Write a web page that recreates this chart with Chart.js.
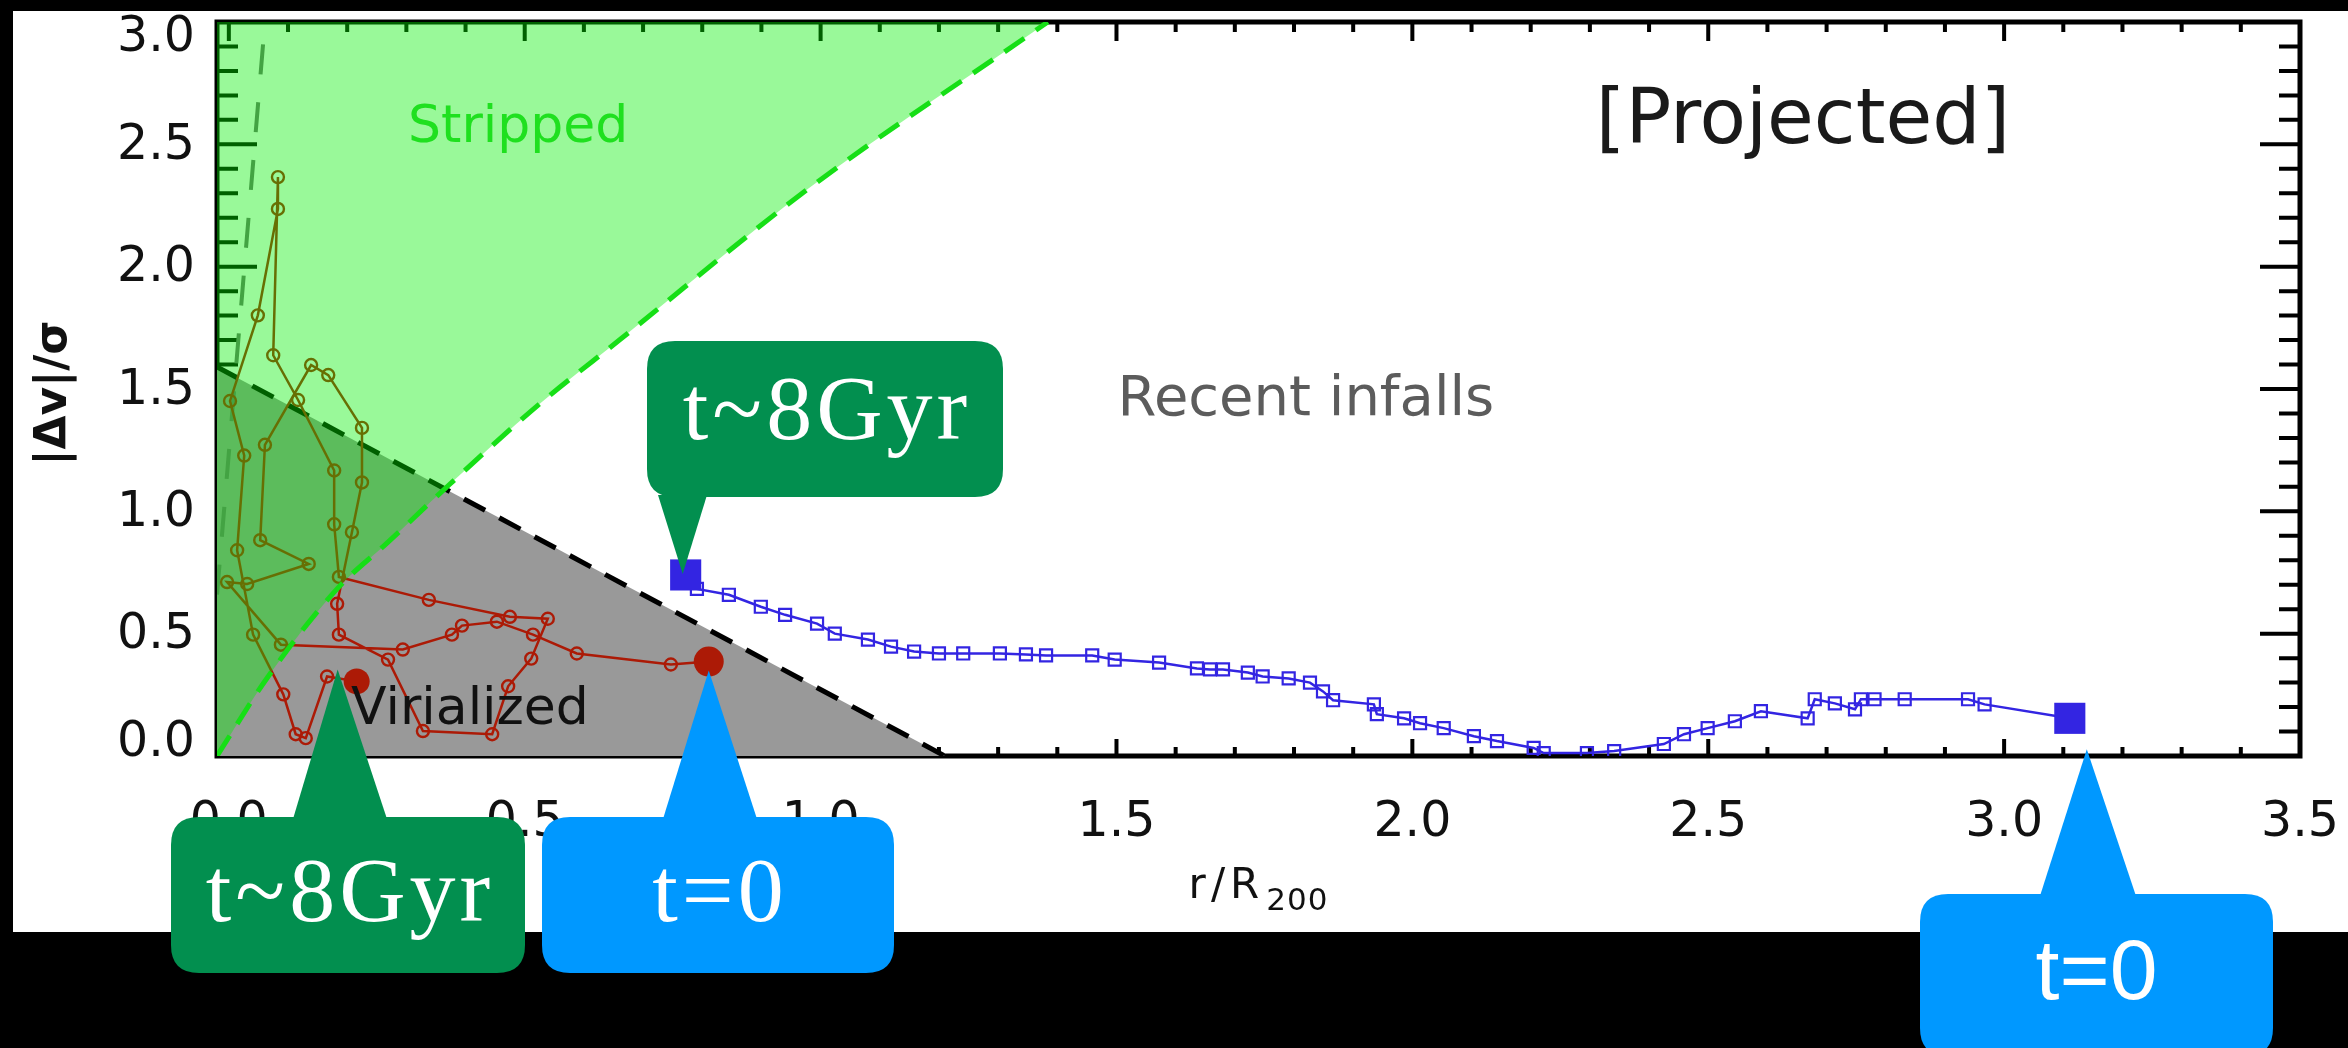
<!DOCTYPE html>
<html>
<head>
<meta charset="utf-8">
<title>Projected phase-space trajectories</title>
<script src="https://cdn.jsdelivr.net/npm/chart.js@4.4.1/dist/chart.umd.min.js"></script>
<style>
  html, body { margin: 0; padding: 0; background: #000; overflow: hidden; }
  canvas { display: block; }
</style>
</head>
<body>
<canvas id="c" width="2348" height="1048"></canvas>
<script>
// ---- axis ticks ----
const xTickValues = [0.0, 0.5, 1.0, 1.5, 2.0, 2.5, 3.0, 3.5];
const yTickValues = [0.0, 0.5, 1.0, 1.5, 2.0, 2.5, 3.0];

// ---- galaxy that stays in the cluster (from t~8Gyr to t=0) ----
const redR = [0.216, 0.166, 0.130, 0.113, 0.092, 0.041, 0.014, 0.026, 0.002, 0.049,
              0.083, 0.083, 0.075, 0.117, 0.178, 0.178, 0.186, 0.338, 0.475, 0.539,
              0.511, 0.472, 0.445, 0.328, 0.269, 0.186, 0.183, 0.208, 0.225, 0.225,
              0.168, 0.139, 0.061, 0.053, 0.135, 0.031, -0.003, 0.088, 0.294, 0.377,
              0.394, 0.453, 0.514, 0.588, 0.747, 0.811];
const redV = [0.305, 0.325, 0.073, 0.089, 0.252, 0.496, 0.841, 1.228, 1.451, 1.801,
              2.236, 2.366, 1.638, 1.455, 1.167, 0.947, 0.732, 0.638, 0.569, 0.561,
              0.398, 0.285, 0.089, 0.102, 0.394, 0.496, 0.622, 0.915, 1.118, 1.341,
              1.557, 1.598, 1.272, 0.882, 0.785, 0.703, 0.711, 0.455, 0.435, 0.496,
              0.533, 0.549, 0.496, 0.419, 0.374, 0.386];

// ---- galaxy moving out of the cluster (from t~8Gyr to t=0) ----
const blueR = [0.772, 0.791, 0.845, 0.899, 0.940, 0.994, 1.024, 1.080, 1.119, 1.158,
               1.200, 1.241, 1.303, 1.347, 1.381, 1.459, 1.497, 1.572, 1.636, 1.658,
               1.680, 1.722, 1.747, 1.791, 1.827, 1.849, 1.866, 1.935, 1.940, 1.986,
               2.013, 2.053, 2.104, 2.143, 2.205, 2.222, 2.295, 2.341, 2.425, 2.459,
               2.499, 2.545, 2.589, 2.668, 2.680, 2.714, 2.748, 2.758, 2.781, 2.832,
               2.939, 2.967, 3.111];
const blueV = [0.740, 0.683, 0.659, 0.610, 0.577, 0.541, 0.500, 0.476, 0.447, 0.427,
               0.419, 0.419, 0.419, 0.415, 0.411, 0.411, 0.394, 0.382, 0.358, 0.354,
               0.354, 0.341, 0.325, 0.317, 0.300, 0.264, 0.228, 0.211, 0.171, 0.154,
               0.134, 0.114, 0.081, 0.061, 0.033, 0.012, 0.012, 0.020, 0.049, 0.089,
               0.114, 0.142, 0.183, 0.154, 0.232, 0.215, 0.191, 0.232, 0.232, 0.232,
               0.232, 0.211, 0.154];

// ---- region boundaries ----
const virialEdgeR = [-0.02, 1.21];
const virialEdgeV = [1.59, 0.0];
const strippedEdgeR = [-0.02, 0.065, 0.183, 0.269, 0.364, 0.527, 0.660, 0.980, 1.384];
const strippedEdgeV = [0.0, 0.32, 0.683, 0.874, 1.09, 1.443, 1.700, 2.320, 3.0];
const escapeEdgeR = [-0.02, 0.061];
const escapeEdgeV = [0.66, 3.0];

// ---- labels ----
const regionLabels = ['Stripped', '[Projected]', 'Recent infalls', 'Virialized'];
const calloutLabels = ['t~8Gyr', 't~8Gyr', 't=0', 't=0'];

const pts = (xs, ys) => xs.map((v, i) => ({ x: v, y: ys[i] }));
const last = a => a[a.length - 1];

const RED = '#AC1A06';
const BLUE = '#3325E2';
const SANS = '"DejaVu Sans", sans-serif';

// page background, white figure panel
const canvasBg = {
  id: 'canvasBg',
  beforeDraw(chart) {
    const { ctx, width, height } = chart;
    ctx.save();
    ctx.fillStyle = '#fff';
    ctx.fillRect(0, 0, width, height);
    ctx.restore();
  }
};

// axis box with inward major and minor ticks, y tick labels
const axisFrame = {
  id: 'axisFrame',
  beforeDatasetsDraw(chart) {
    const { ctx, chartArea: a, scales: { x, y } } = chart;
    ctx.save();
    ctx.strokeStyle = '#000';
    ctx.lineWidth = 4;
    const xStep = (xTickValues[1] - xTickValues[0]) / 5;
    const xEnd = last(xTickValues);
    for (let i = 0; i * xStep <= xEnd + 1e-9; i++) {
      const p = x.getPixelForValue(i * xStep);
      const major = i % 5 === 0;
      ctx.beginPath();
      ctx.moveTo(p, a.bottom); ctx.lineTo(p, a.bottom - (major ? 17 : 9));
      ctx.moveTo(p, a.top); ctx.lineTo(p, a.top + (major ? 19 : 10));
      ctx.stroke();
    }
    const yStep = (yTickValues[1] - yTickValues[0]) / 5;
    const yEnd = last(yTickValues);
    for (let i = 1; i * yStep < yEnd - 1e-9; i++) {
      const p = y.getPixelForValue(i * yStep);
      const major = i % 5 === 0;
      ctx.beginPath();
      ctx.moveTo(a.left, p); ctx.lineTo(a.left + (major ? 40 : 21), p);
      ctx.moveTo(a.right, p); ctx.lineTo(a.right - (major ? 40 : 21), p);
      ctx.stroke();
    }
    ctx.lineWidth = 5;
    ctx.strokeRect(a.left, a.top, a.right - a.left, a.bottom - a.top);

    // y tick labels; the two end labels sit a little inside the axis range
    ctx.fillStyle = '#111';
    ctx.font = '49px ' + SANS;
    ctx.textAlign = 'right';
    ctx.textBaseline = 'middle';
    yTickValues.forEach((v, i) => {
      let dy = 2;
      if (i === 0) dy = -13;
      if (i === yTickValues.length - 1) dy = 16;
      ctx.fillText(v.toFixed(1), a.left - 22, y.getPixelForValue(v) + dy);
    });
    ctx.restore();
  }
};

// region names and axis titles
const regionText = {
  id: 'regionText',
  afterDatasetsDraw(chart) {
    const { ctx, chartArea: a, scales: { x, y } } = chart;
    const items = [
      { t: regionLabels[0], r: 0.489, v: 2.566, font: '52px ' + SANS, color: '#1FE01F' },
      { t: regionLabels[1], r: 2.660, v: 2.587, font: '76px ' + SANS, color: '#1a1a1a' },
      { t: regionLabels[2], r: 1.820, v: 1.455, font: '56px ' + SANS, color: '#5c5c5c' },
      { t: regionLabels[3], r: 0.4075, v: 0.186, font: '52px ' + SANS, color: '#111' }
    ];
    ctx.save();
    ctx.textAlign = 'center';
    ctx.textBaseline = 'middle';
    for (const it of items) {
      ctx.font = it.font;
      ctx.fillStyle = it.color;
      ctx.fillText(it.t, x.getPixelForValue(it.r), y.getPixelForValue(it.v));
    }
    // y title
    ctx.save();
    ctx.translate(55, (a.top + a.bottom) / 2 + 4);
    ctx.rotate(-Math.PI / 2);
    ctx.font = 'bold 44px ' + SANS;
    ctx.fillStyle = '#111';
    ctx.fillText('|Δv|/σ', 0, 0);
    ctx.restore();
    // x title with subscript
    const cx = (a.left + a.right) / 2;
    ctx.textAlign = 'left';
    ctx.textBaseline = 'alphabetic';
    ctx.fillStyle = '#111';
    ctx.font = '42px ' + SANS;
    if ('letterSpacing' in ctx) ctx.letterSpacing = '5px';
    const main = 'r/R';
    const wMain = ctx.measureText(main).width;
    ctx.font = '31px ' + SANS;
    if ('letterSpacing' in ctx) ctx.letterSpacing = '1px';
    const sub = '200';
    const wSub = ctx.measureText(sub).width;
    const x0 = cx - (wMain + wSub + 2) / 2;
    ctx.font = '42px ' + SANS;
    if ('letterSpacing' in ctx) ctx.letterSpacing = '5px';
    ctx.fillText(main, x0, 898);
    ctx.font = '31px ' + SANS;
    if ('letterSpacing' in ctx) ctx.letterSpacing = '1px';
    ctx.fillText(sub, x0 + wMain + 2, 910);
    ctx.restore();
  }
};

function roundRectPath(ctx, x, y, w, h, r) {
  ctx.beginPath();
  ctx.moveTo(x + r, y);
  ctx.lineTo(x + w - r, y);
  ctx.quadraticCurveTo(x + w, y, x + w, y + r);
  ctx.lineTo(x + w, y + h - r);
  ctx.quadraticCurveTo(x + w, y + h, x + w - r, y + h);
  ctx.lineTo(x + r, y + h);
  ctx.quadraticCurveTo(x, y + h, x, y + h - r);
  ctx.lineTo(x, y + r);
  ctx.quadraticCurveTo(x, y, x + r, y);
  ctx.closePath();
}

// dark page border and the time-stamp callouts
const overlays = {
  id: 'overlays',
  afterDraw(chart) {
    const { ctx, width, height, scales: { x, y } } = chart;
    ctx.save();
    ctx.fillStyle = '#000';
    ctx.fillRect(0, 0, width, 11);
    ctx.fillRect(0, 0, 13, height);
    ctx.fillRect(0, 932, width, height - 932);

    const at = (r, v) => ({ x: x.getPixelForValue(r), y: y.getPixelForValue(v) });
    const SERIF = '92px "Liberation Serif", serif';
    const callouts = [
      { text: calloutLabels[0], font: SERIF, spacing: 4, color: '#028F4F',
        box: [647, 341, 356, 156], edge: 'bottom', base: [658, 707],
        tip: at(blueR[0], blueV[0]), off: [-3, -1], dy: -4 },
      { text: calloutLabels[1], font: SERIF, spacing: 4, color: '#028F4F',
        box: [171, 817, 354, 156], edge: 'top', base: [293, 387],
        tip: at(redR[0], redV[0]), off: [-19, -12], dy: 2 },
      { text: calloutLabels[2], font: SERIF, spacing: 4, color: '#0098FF',
        box: [542, 817, 352, 156], edge: 'top', base: [663, 757],
        tip: at(last(redR), last(redV)), off: [0, 9], dy: 2 },
      { text: calloutLabels[3], font: '86px "Liberation Sans", sans-serif', spacing: 0, color: '#0098FF',
        box: [1920, 894, 353, 162], edge: 'top', base: [2040, 2136],
        tip: at(last(blueR), last(blueV)), off: [17, 31], dy: 0 }
    ];
    for (const c of callouts) {
      const [bx, by, bw, bh] = c.box;
      ctx.fillStyle = c.color;
      roundRectPath(ctx, bx, by, bw, bh, 28);
      ctx.fill();
      const edgeY = c.edge === 'top' ? by + 2 : by + bh - 2;
      ctx.beginPath();
      ctx.moveTo(c.base[0], edgeY);
      ctx.lineTo(c.tip.x + c.off[0], c.tip.y + c.off[1]);
      ctx.lineTo(c.base[1], edgeY);
      ctx.closePath();
      ctx.fill();
      ctx.fillStyle = '#fff';
      ctx.font = c.font;
      if ('letterSpacing' in ctx) ctx.letterSpacing = c.spacing + 'px';
      ctx.textAlign = 'center';
      ctx.textBaseline = 'middle';
      ctx.fillText(c.text, bx + bw / 2 + c.spacing / 2, by + bh / 2 + c.dy);
    }
    ctx.restore();
  }
};

new Chart(document.getElementById('c'), {
  type: 'line',
  data: {
    datasets: [
      { // ram-pressure stripping zone
        label: 'stripped', order: 1, data: pts(strippedEdgeR, strippedEdgeV),
        borderColor: '#16DF16', borderWidth: 5, borderDash: [24, 14],
        backgroundColor: 'rgba(0, 240, 0, 0.40)', fill: 'end',
        cubicInterpolationMode: 'monotone', pointRadius: 0
      },
      { // end points of the outgoing galaxy
        label: 'blue ends', order: 2, showLine: false,
        data: [{ x: blueR[0], y: blueV[0] }, { x: last(blueR), y: last(blueV) }],
        pointStyle: 'rect', pointRadius: 22, pointBorderWidth: 0,
        pointBackgroundColor: BLUE, pointBorderColor: BLUE
      },
      { // outgoing galaxy track
        label: 'blue', order: 3, data: pts(blueR, blueV),
        borderColor: BLUE, borderWidth: 2.5,
        pointStyle: 'rect', pointRadius: 8.5, pointBorderWidth: 2.2,
        pointBorderColor: BLUE, pointBackgroundColor: 'rgba(0,0,0,0)'
      },
      { // end points of the resident galaxy
        label: 'red ends', order: 4, showLine: false,
        data: [{ x: redR[0], y: redV[0] }, { x: last(redR), y: last(redV) }],
        pointStyle: 'circle', pointRadius: [13, 15], pointBorderWidth: 0,
        pointBackgroundColor: RED, pointBorderColor: RED
      },
      { // resident galaxy track
        label: 'red', order: 5, data: pts(redR, redV),
        borderColor: RED, borderWidth: 2.5,
        pointStyle: 'circle', pointRadius: 6, pointBorderWidth: 2.4,
        pointBorderColor: RED, pointBackgroundColor: 'rgba(0,0,0,0)'
      },
      { // escape boundary
        label: 'escape', order: 6, data: pts(escapeEdgeR, escapeEdgeV),
        borderColor: '#707070', borderWidth: 4, borderDash: [30, 28],
        fill: false, pointRadius: 0
      },
      { // virialized zone
        label: 'virialized', order: 7, data: pts(virialEdgeR, virialEdgeV),
        borderColor: '#000', borderWidth: 5, borderDash: [24, 16],
        backgroundColor: '#999999', fill: 'origin', pointRadius: 0
      }
    ]
  },
  options: {
    responsive: false,
    animation: false,
    devicePixelRatio: 1,
    layout: { padding: { left: 0, top: 16, right: 48, bottom: 0 } },
    plugins: { legend: { display: false }, tooltip: { enabled: false } },
    elements: { line: { tension: 0 } },
    scales: {
      x: {
        type: 'linear', min: -0.02, max: 3.5,
        afterBuildTicks: s => { s.ticks = xTickValues.map(v => ({ value: v })); },
        afterFit: s => { s.height = 292; s.paddingLeft = 0; s.paddingRight = 0; },
        grid: { display: false }, border: { display: false },
        ticks: {
          font: { family: SANS, size: 49 }, color: '#111', padding: 30,
          maxRotation: 0, autoSkip: false, callback: v => v.toFixed(1)
        }
      },
      y: {
        type: 'linear', min: 0, max: 3,
        afterBuildTicks: s => { s.ticks = yTickValues.map(v => ({ value: v })); },
        afterFit: s => { s.width = 217; s.paddingTop = 0; s.paddingBottom = 0; },
        grid: { display: false }, border: { display: false },
        ticks: { display: false }
      }
    }
  },
  plugins: [canvasBg, axisFrame, regionText, overlays]
});
</script>
</body>
</html>
